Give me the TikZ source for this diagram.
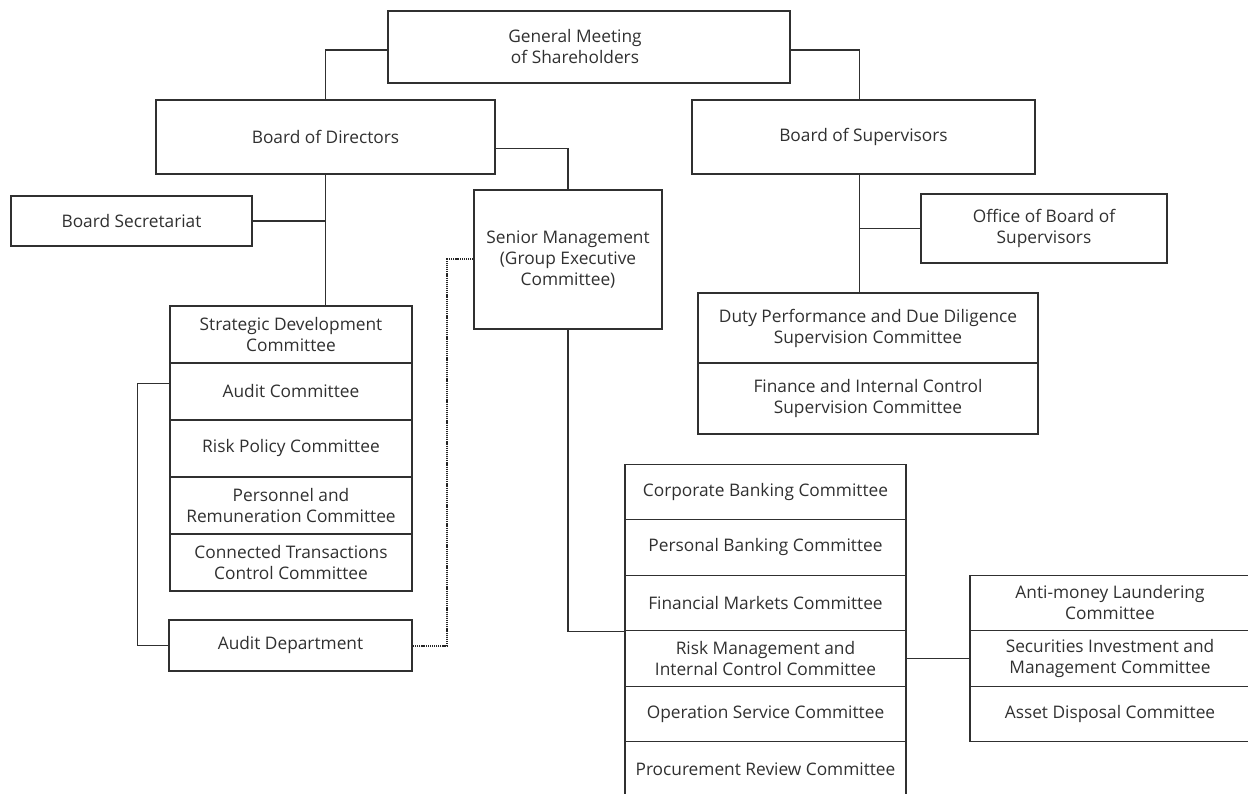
\documentclass[tikz,border=0pt]{standalone}
\usepackage{fontspec}
\setmainfont{Open Sans}
\usetikzlibrary{calc}
\definecolor{ink}{HTML}{303030}
\tikzset{
  unitbox/.style={draw=ink, line width=1.3pt, inner sep=0pt, align=center,
    text=ink, font=\fontsize{17.3}{21}\selectfont},
  link/.style={draw=ink, line width=1.3pt},
  dotlink/.style={draw=black!85, line width=2pt, dash pattern=on 1.2pt off 0.9pt},
}
% box given by its centre, width and height
\newcommand{\orgbox}[6][]{\node[unitbox, minimum width=#4pt, minimum height=#5pt, #1] (#2) at (#3) {#6};}
\begin{document}
\begin{tikzpicture}[x=1pt, y=-1pt]
\useasboundingbox (0,0) rectangle (1248,794);

% top level
\orgbox{gm}{589,47}{402}{72}{}
\node[text=ink, align=center, font=\fontsize{17.3}{21}\selectfont] (gmtext) at (575,47) {General Meeting\\of Shareholders};
\orgbox{bd}{325.5,137}{339}{74}{Board of Directors}
\orgbox{bs}{863.5,137}{343}{74}{Board of Supervisors}

% board of directors side
\orgbox{bsec}{131.5,221}{241}{50}{Board Secretariat}
\orgbox{sdc}{291,334.5}{242}{57}{Strategic Development\\Committee}
\orgbox{ac}{291,391.5}{242}{57}{Audit Committee}
\orgbox{rpc}{291,448.5}{242}{57}{Risk Policy Committee}
\orgbox{prc}{291,505.5}{242}{57}{Personnel and\\Remuneration Committee}
\orgbox{ctc}{291,562.5}{242}{57}{Connected Transactions\\Control Committee}
\orgbox{ad}{290.5,645.5}{243}{51}{Audit Department}

% senior management
\orgbox{sm}{568,259.5}{188}{139}{Senior Management\\(Group Executive\\Committee)}
\orgbox{cbc}{765.5,492}{281}{55.5}{Corporate Banking Committee}
\orgbox{pbc}{765.5,547.5}{281}{55.5}{Personal Banking Committee}
\orgbox{fmc}{765.5,603}{281}{55.5}{Financial Markets Committee}
\orgbox{rmc}{765.5,658.5}{281}{55.5}{Risk Management and\\Internal Control Committee}
\orgbox{osc}{765.5,714}{281}{55.5}{Operation Service Committee}
\orgbox{prv}{765.5,769.5}{281}{55.5}{Procurement Review Committee}
\orgbox{aml}{1110,603}{280}{55.5}{Anti-money Laundering\\Committee}
\orgbox{sim}{1110,658.5}{280}{55.5}{Securities Investment and\\Management Committee}
\orgbox{adc}{1110,714}{280}{55.5}{Asset Disposal Committee}

% board of supervisors side
\orgbox{obs}{1044,228.5}{246}{69}{Office of Board of\\Supervisors}
\orgbox{dpc}{868,328}{340}{70}{Duty Performance and Due Diligence\\Supervision Committee}
\orgbox{fic}{868,398.5}{340}{71}{Finance and Internal Control\\Supervision Committee}

% connectors
\coordinate (bsdrop) at ([xshift=-4pt]bs.south);
\draw[link] ([yshift=-3pt]gm.west) -| (bd.north);
\draw[link] ([yshift=-3pt]gm.east) -| ([xshift=-4pt]bs.north);
\draw[link] (bd.south) -- (bd.south |- sdc.north);
\draw[link] (bsec.east) -- (bsec.east -| bd.south);
\draw[link] ([yshift=-11.7pt]bd.east) -| (sm.north);
\draw[link] (sm.south) |- (fmc.south west);
\draw[link] (rmc.east) -- (sim.west);
\draw[link] (bsdrop) -- (bsdrop |- dpc.north);
\draw[link] (obs.west) -- (obs.west -| bsdrop);
\draw[link] ([yshift=8pt]ac.west) -- ++(-32,0) |- (ad.west);
\draw[dotlink] (sm.west) -- ++(-26,0) |- (ad.east);
\end{tikzpicture}
\end{document}
